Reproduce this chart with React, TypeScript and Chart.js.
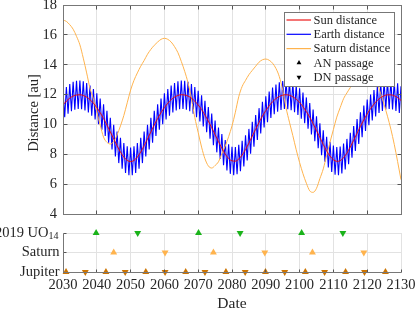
import React, { useEffect, useRef } from "react";
import { Chart, registerables } from "chart.js";

Chart.register(...registerables);

// ---------------- data ----------------
const FIRST_YEAR = 2030;

// heliocentric distance of 2019 UO14 [au], one value per year 2030..2130
const sunDistance = [
  11.30, 11.56, 11.76, 11.90, 11.97, 11.99, 11.94, 11.83, 11.66, 11.42,
  11.13, 10.79, 10.40, 9.96, 9.50, 9.03, 8.57, 8.15, 7.81, 7.59,
  7.51, 7.59, 7.81, 8.15, 8.57, 9.03, 9.50, 9.96, 10.40, 10.79,
  11.13, 11.42, 11.66, 11.83, 11.94, 11.99, 11.97, 11.90, 11.76, 11.56,
  11.30, 11.00, 10.63, 10.22, 9.78, 9.31, 8.85, 8.40, 8.01, 7.72,
  7.56, 7.54, 7.68, 7.95, 8.32, 8.75, 9.22, 9.68, 10.14, 10.56,
  10.93, 11.25, 11.52, 11.73, 11.87, 11.96, 11.99, 11.95, 11.85, 11.69,
  11.47, 11.19, 10.86, 10.48, 10.05, 9.59, 9.12, 8.66, 8.23, 7.88,
  7.63, 7.53, 7.57, 7.77, 8.08, 8.49, 8.94, 9.41, 9.87, 10.31,
  10.71, 11.06, 11.36, 11.61, 11.80, 11.92, 11.98, 11.98, 11.92, 11.80,
  11.61,
];

// geocentric distance: far points (start of each year) and near points (mid-year)
const earthDistanceFar = [
  12.25, 12.51, 12.71, 12.85, 12.92, 12.94, 12.89, 12.78, 12.61, 12.37,
  12.08, 11.74, 11.35, 10.91, 10.45, 9.98, 9.52, 9.10, 8.76, 8.54,
  8.46, 8.54, 8.76, 9.10, 9.52, 9.98, 10.45, 10.91, 11.35, 11.74,
  12.08, 12.37, 12.61, 12.78, 12.89, 12.94, 12.92, 12.85, 12.71, 12.51,
  12.25, 11.95, 11.58, 11.17, 10.73, 10.26, 9.80, 9.35, 8.96, 8.67,
  8.51, 8.49, 8.63, 8.90, 9.27, 9.70, 10.17, 10.63, 11.09, 11.51,
  11.88, 12.20, 12.47, 12.68, 12.82, 12.91, 12.94, 12.90, 12.80, 12.64,
  12.42, 12.14, 11.81, 11.43, 11.00, 10.54, 10.07, 9.61, 9.18, 8.83,
  8.58, 8.48, 8.52, 8.72, 9.03, 9.44, 9.89, 10.36, 10.82, 11.26,
  11.66, 12.01, 12.31, 12.56, 12.75, 12.87, 12.93, 12.93, 12.87, 12.75,
  12.56,
];
const earthDistanceNear = [
  10.48, 10.71, 10.88, 10.99, 11.03, 11.02, 10.94, 10.80, 10.59, 10.33,
  10.01, 9.65, 9.23, 8.78, 8.32, 7.85, 7.41, 7.03, 6.75, 6.60,
  6.60, 6.75, 7.03, 7.41, 7.85, 8.32, 8.78, 9.23, 9.65, 10.01,
  10.33, 10.59, 10.80, 10.94, 11.02, 11.03, 10.99, 10.88, 10.71, 10.48,
  10.20, 9.87, 9.48, 9.05, 8.60, 8.13, 7.68, 7.26, 6.92, 6.69,
  6.60, 6.66, 6.87, 7.19, 7.59, 8.04, 8.50, 8.96, 9.40, 9.80,
  10.14, 10.44, 10.68, 10.85, 10.97, 11.03, 11.02, 10.95, 10.82, 10.63,
  10.38, 10.08, 9.72, 9.32, 8.87, 8.41, 7.94, 7.50, 7.11, 6.81,
  6.63, 6.60, 6.72, 6.98, 7.34, 7.77, 8.23, 8.69, 9.14, 9.56,
  9.94, 10.26, 10.54, 10.76, 10.91, 11.00, 11.03, 11.00, 10.91, 10.76,
];

// distance to Saturn [au], one value per year 2030..2130
const saturnDistance = [
  17.00, 16.90, 16.68, 16.38, 15.90, 15.33, 14.44, 13.45, 12.41, 11.71,
  10.84, 9.96, 9.15, 8.80, 8.69, 8.85, 9.30, 9.90, 10.60, 11.45,
  12.30, 12.95, 13.45, 13.90, 14.28, 14.70, 15.03, 15.30, 15.52, 15.70,
  15.77, 15.70, 15.52, 15.21, 14.81, 14.22, 13.56, 12.78, 11.71, 10.46,
  9.46, 8.48, 7.70, 7.22, 7.08, 7.25, 7.50, 8.04, 8.55, 9.18,
  9.90, 10.82, 11.86, 12.54, 12.95, 13.33, 13.62, 13.90, 14.17, 14.33,
  14.38, 14.30, 14.10, 13.75, 13.20, 12.30, 11.10, 10.15, 9.25, 8.30,
  7.45, 6.70, 6.06, 5.55, 5.45, 5.72, 6.37, 7.02, 7.93, 8.82,
  9.66, 10.49, 11.12, 11.72, 12.11, 12.47, 12.75, 12.97, 13.15, 13.30,
  13.38, 13.32, 13.10, 12.73, 12.05, 11.33, 10.55, 9.68, 8.67, 7.51,
  6.30,
];

// node passages (years)
const uo14AN = [2039.8, 2070.1, 2100.6];
const uo14DN = [2052.1, 2082.4, 2112.8];
const saturnAN = [2045.0, 2074.5, 2103.8];
const saturnDN = [2060.2, 2089.7, 2119.0];
const jupiterAN = [2030.9, 2042.7, 2054.5, 2066.3, 2078.2, 2089.9, 2101.7, 2113.6, 2125.4];
const jupiterDN = [2036.6, 2048.4, 2060.2, 2072.0, 2083.9, 2095.6, 2107.4, 2119.2];

const rowLabels = ["Jupiter", "Saturn", "2019 UO"];
const rowSubscripts = ["", "", "14"];
const legendLabels = ["Sun distance", "Earth distance", "Saturn distance", "AN passage", "DN passage"];

// ---------------- styles ----------------
const RED = "rgba(235,0,0,0.9)";
const BLUE = "#0000ff";
const SAT = "#ffb34d";
const JUP = "#cc7300";
const GREEN = "#1ab31a";
const AXIS = "#777777";
const TICK = "#555555";
const GRID = "#e2e2e2";
const TEXT = "#262626";
const FONT = "'Liberation Serif', 'Times New Roman', serif";

const al = (p: number) => Math.round(p - 0.5) + 0.5;

function tri(ctx: CanvasRenderingContext2D, x: number, y: number, r: number, down: boolean) {
  const s = down ? -1 : 1;
  ctx.beginPath();
  ctx.moveTo(x, y - s * r);
  ctx.lineTo(x + r * 0.866, y + (s * r) / 2);
  ctx.lineTo(x - r * 0.866, y + (s * r) / 2);
  ctx.closePath();
  ctx.fill();
}

const topPlugin = {
  id: "topDecor",
  afterDraw(chart: any) {
    const { ctx, chartArea: a, scales } = chart;
    const xs = scales.x;
    const ys = scales.y;
    const L = al(a.left), R = al(a.right), T = al(a.top), B = al(a.bottom);
    ctx.save();
    // inner ticks
    ctx.strokeStyle = TICK;
    ctx.lineWidth = 1;
    ctx.beginPath();
    xs.ticks.forEach((t: any) => {
      const px = al(xs.getPixelForValue(t.value));
      ctx.moveTo(px, B); ctx.lineTo(px, B - 4);
      ctx.moveTo(px, T); ctx.lineTo(px, T + 4);
    });
    ys.ticks.forEach((t: any) => {
      const py = al(ys.getPixelForValue(t.value));
      ctx.moveTo(L, py); ctx.lineTo(L + 4, py);
      ctx.moveTo(R, py); ctx.lineTo(R - 4, py);
    });
    ctx.stroke();
    ctx.strokeStyle = AXIS;
    ctx.strokeRect(L, T, R - L, B - T);

    // y title
    ctx.save();
    ctx.translate(34, 113);
    ctx.rotate(-Math.PI / 2);
    ctx.font = `14.5px ${FONT}`;
    ctx.fillStyle = TEXT;
    ctx.textAlign = "center";
    ctx.textBaseline = "middle";
    ctx.fillText("Distance [au]", 0, 0);
    ctx.restore();

    // legend
    const items = chart.data.datasets;
    ctx.font = `12.5px ${FONT}`;
    const maxW = Math.max(...items.map((d: any) => ctx.measureText(d.label).width));
    const rowH = 14.3;
    const w = Math.round(29.5 + maxW + 4);
    const h = Math.round(items.length * rowH + 2.5);
    const right = Math.round(a.right - 7);
    const left = right - w;
    const top = Math.round(a.top + 7);
    ctx.fillStyle = "#ffffff";
    ctx.fillRect(left, top, w, h);
    ctx.strokeStyle = AXIS;
    ctx.strokeRect(left + 0.5, top + 0.5, w, h);
    items.forEach((d: any, i: number) => {
      const cy = top + 8 + i * rowH;
      if (d.showLine === false) {
        ctx.fillStyle = "#000";
        tri(ctx, left + 15, cy, 2.8, d.pointRotation === 180);
      } else {
        ctx.strokeStyle = d.borderColor;
        ctx.lineWidth = 1.2;
        ctx.beginPath();
        ctx.moveTo(left + 2.5, cy);
        ctx.lineTo(left + 27, cy);
        ctx.stroke();
      }
      ctx.fillStyle = TEXT;
      ctx.textAlign = "left";
      ctx.textBaseline = "middle";
      ctx.fillText(d.label, left + 29.5, cy + 0.5);
    });
    ctx.restore();
  },
};

const bottomPlugin = {
  id: "bottomDecor",
  afterDraw(chart: any) {
    const { ctx, chartArea: a, scales } = chart;
    const xs = scales.x;
    const ys = scales.y;
    const L = al(a.left), B = al(a.bottom), T = al(a.top);
    ctx.save();
    ctx.strokeStyle = TICK;
    ctx.lineWidth = 1;
    ctx.beginPath();
    xs.ticks.forEach((t: any) => {
      const px = al(xs.getPixelForValue(t.value));
      ctx.moveTo(px, B); ctx.lineTo(px, B - 3);
    });
    ys.ticks.forEach((t: any) => {
      const py = al(ys.getPixelForValue(t.value));
      ctx.moveTo(L, py); ctx.lineTo(L + 3, py);
    });
    ctx.stroke();
    ctx.strokeStyle = AXIS;
    ctx.beginPath();
    ctx.moveTo(L, T); ctx.lineTo(L, B); ctx.lineTo(al(a.right), B);
    ctx.stroke();

    // category labels
    ctx.fillStyle = TEXT;
    ctx.textBaseline = "middle";
    ctx.textAlign = "right";
    rowLabels.forEach((lab, i) => {
      const py = ys.getPixelForValue(i);
      const sub = rowSubscripts[i];
      let xr = 59.5;
      if (sub) {
        ctx.font = `10px ${FONT}`;
        ctx.fillText(sub, xr - 1, py + 3);
        xr -= ctx.measureText(sub).width + 1;
      }
      ctx.font = `14.5px ${FONT}`;
      ctx.fillText(lab, xr, py);
    });

    // x title
    ctx.font = `15.5px ${FONT}`;
    ctx.textAlign = "center";
    ctx.fillText("Date", (a.left + a.right) / 2, 82);
    ctx.restore();
  },
};

function topConfig(): any {
  const years = sunDistance.map((_, i) => FIRST_YEAR + i);
  const earthPts: { x: number; y: number }[] = [];
  earthDistanceFar.forEach((v, i) => {
    earthPts.push({ x: years[i], y: v });
    if (i < earthDistanceNear.length) earthPts.push({ x: years[i] + 0.5, y: earthDistanceNear[i] });
  });
  return {
    type: "line",
    data: {
      datasets: [
        {
          label: legendLabels[0],
          data: years.map((x, i) => ({ x, y: sunDistance[i] })),
          borderColor: RED, borderWidth: 1, pointRadius: 0,
          cubicInterpolationMode: "monotone", order: 0,
        },
        {
          label: legendLabels[1],
          data: earthPts,
          borderColor: BLUE, borderWidth: 1.1, pointRadius: 0, tension: 0, order: 2,
        },
        {
          label: legendLabels[2],
          data: years.map((x, i) => ({ x, y: saturnDistance[i] })),
          borderColor: SAT, borderWidth: 1, pointRadius: 0,
          cubicInterpolationMode: "monotone", order: 1,
        },
        { label: legendLabels[3], data: [], showLine: false, pointStyle: "triangle", pointRotation: 0, backgroundColor: "#000" },
        { label: legendLabels[4], data: [], showLine: false, pointStyle: "triangle", pointRotation: 180, backgroundColor: "#000" },
      ],
    },
    options: {
      animation: false,
      responsive: false,
      devicePixelRatio: 1,
      layout: { padding: { top: 5, right: 14, left: 0, bottom: 0 } },
      plugins: { legend: { display: false }, tooltip: { enabled: false } },
      scales: {
        x: {
          type: "linear", min: 2030, max: 2130,
          ticks: { display: false, stepSize: 10 },
          grid: { color: GRID, drawTicks: false },
          border: { display: false },
          afterFit: (s: any) => { s.height = 8; s.paddingLeft = 0; s.paddingRight = 0; },
        },
        y: {
          min: 4, max: 18,
          ticks: { stepSize: 2, padding: 6, color: TEXT, font: { family: FONT, size: 14.5 } },
          grid: { color: GRID, drawTicks: false },
          border: { display: false },
          afterFit: (s: any) => { s.width = 63; s.paddingTop = 0; s.paddingBottom = 0; },
        },
      },
    },
    plugins: [topPlugin],
  };
}

function bottomConfig(): any {
  const mk = (label: string, xs: number[], row: number, color: string, rot: number) => ({
    label,
    data: xs.map((x) => ({ x, y: row })),
    pointStyle: "triangle",
    pointRadius: 4,
    pointRotation: rot,
    backgroundColor: color,
    borderColor: color,
    borderWidth: 0,
    showLine: false,
    clip: false,
  });
  return {
    type: "scatter",
    data: {
      datasets: [
        mk("2019 UO14 AN", uo14AN, 2, GREEN, 0),
        mk("2019 UO14 DN", uo14DN, 2, GREEN, 180),
        mk("Saturn AN", saturnAN, 1, SAT, 0),
        mk("Saturn DN", saturnDN, 1, SAT, 180),
        mk("Jupiter AN", jupiterAN, 0, JUP, 0),
        mk("Jupiter DN", jupiterDN, 0, JUP, 180),
      ],
    },
    options: {
      animation: false,
      responsive: false,
      devicePixelRatio: 1,
      layout: { padding: { top: 11, right: 14, left: 0, bottom: 0 } },
      plugins: { legend: { display: false }, tooltip: { enabled: false } },
      scales: {
        x: {
          type: "linear", min: 2030, max: 2130,
          ticks: {
            stepSize: 10, padding: 4, color: TEXT, maxRotation: 0, autoSkip: false,
            font: { family: FONT, size: 14.5 },
            callback: (v: any) => String(v),
          },
          grid: { color: GRID, drawTicks: false },
          border: { display: false },
          afterFit: (s: any) => { s.height = 37; s.paddingLeft = 0; s.paddingRight = 0; },
        },
        y: {
          min: 0, max: 2,
          ticks: { display: false, stepSize: 1 },
          grid: { color: GRID, drawTicks: false },
          border: { display: false },
          afterFit: (s: any) => { s.width = 63; s.paddingTop = 0; s.paddingBottom = 0; },
        },
      },
    },
    plugins: [bottomPlugin],
  };
}

export default function App() {
  const topRef = useRef<HTMLCanvasElement>(null);
  const botRef = useRef<HTMLCanvasElement>(null);
  useEffect(() => {
    const top = new Chart(topRef.current as HTMLCanvasElement, topConfig());
    const bot = new Chart(botRef.current as HTMLCanvasElement, bottomConfig());
    return () => {
      top.destroy();
      bot.destroy();
    };
  }, []);
  return (
    <div style={{ position: "absolute", left: 0, top: 0, width: 415, height: 309, background: "#ffffff" }}>
      <canvas ref={topRef} width={415} height={222}
        style={{ position: "absolute", left: 0, top: 0, width: 415, height: 222, display: "block" }} />
      <canvas ref={botRef} width={415} height={87}
        style={{ position: "absolute", left: 0, top: 222, width: 415, height: 87, display: "block" }} />
    </div>
  );
}
